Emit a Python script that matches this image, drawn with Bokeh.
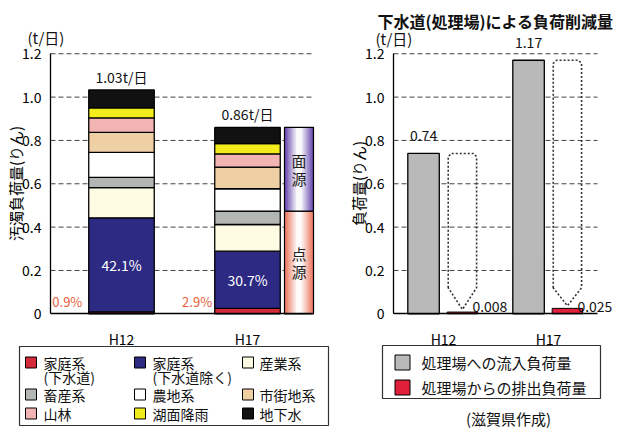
from bokeh.plotting import figure
from bokeh.models import ColumnDataSource, FixedTicker, Range1d
from bokeh.layouts import row
from bokeh.embed import file_html
from bokeh.resources import INLINE
from bokeh.core.properties import value

FONT = "Noto Sans CJK JP"

# ---------------- data ----------------
years = ["H12", "H17"]
sources = ["家庭系\n(下水道)", "家庭系\n(下水道除く)", "産業系", "畜産系", "農地系",
           "市街地系", "山林", "湖面降雨", "地下水"]
load_h12 = [0.009, 0.434, 0.139, 0.048, 0.115, 0.092, 0.067, 0.046, 0.083]
load_h17 = [0.025, 0.264, 0.123, 0.062, 0.103, 0.100, 0.061, 0.047, 0.075]
total_labels = ["1.03t/日", "0.86t/日"]
sewer_pct = ["0.9%", "2.9%"]
domestic_pct = ["42.1%", "30.7%"]
n_point = 4  # 家庭系(2), 産業系, 畜産系 = 点源
side_labels = ["点源", "面源"]

inflow = [0.74, 1.17]
outflow = [0.008, 0.025]
inflow_labels = ["0.74", "1.17"]
outflow_labels = ["0.008", "0.025"]
right_series = ["処理場への流入負荷量", "処理場からの排出負荷量"]
right_title = "下水道(処理場)による負荷削減量"
unit_label = "(t/日)"
credit = "(滋賀県作成)"

yticks = [0, 0.2, 0.4, 0.6, 0.8, 1.0, 1.2]
ytick_labels = ["0", "0.2", "0.4", "0.6", "0.8", "1.0", "1.2"]

# ---------------- styles ----------------
src_colors = ["#d42a3a", "#2d2a84", "#fdfbe2", "#b3b7b4", "#ffffff",
              "#efcfa4", "#f2b4b2", "#f3ec1c", "#111111"]
in_color = "#b9b9b9"
out_color = "#e0203a"
TXT = "#111111"

H = 432
PPU_Y = 216.7
Y0_PX = 313.3


def py2y(py):
    return (Y0_PX - py) / PPU_Y


def make_fig(width, x_lo, ppu_x, axis_px, right_px, ylabel):
    p = figure(width=width, height=H,
               x_range=Range1d(x_lo, x_lo + width / ppu_x),
               y_range=Range1d(py2y(H), py2y(0)),
               output_backend="svg", toolbar_location=None, min_border=0)
    p.outline_line_color = None
    p.background_fill_color = "white"
    p.border_fill_color = "white"
    p.grid.visible = False
    ax_x = x_lo + axis_px / ppu_x
    rt_x = x_lo + right_px / ppu_x
    # dashed horizontal grid lines
    p.segment(x0=ax_x, x1=rt_x, y0=yticks[1:], y1=yticks[1:],
              line_color="#444444", line_dash="5 3", line_width=1)
    p.yaxis.ticker = FixedTicker(ticks=yticks)
    p.yaxis.major_label_overrides = {t: s for t, s in zip(yticks, ytick_labels)}
    p.yaxis.fixed_location = ax_x
    p.yaxis.bounds = (0, 1.2)
    p.yaxis.axis_label = ylabel
    p.xaxis.ticker = FixedTicker(ticks=[1, 2])
    p.xaxis.major_label_overrides = {1: years[0], 2: years[1]}
    p.xaxis.fixed_location = 0
    p.xaxis.bounds = (ax_x, rt_x)
    for ax in (p.xaxis, p.yaxis):
        ax.axis_line_color = "black"
        ax.axis_line_width = 1.3
        ax.major_tick_line_color = None
        ax.minor_tick_line_color = None
        ax.major_label_text_font = FONT
        ax.major_label_text_font_size = "14px"
        ax.major_label_text_color = "black"
        ax.axis_label_text_font = FONT
        ax.axis_label_text_font_style = "normal"
        ax.axis_label_text_font_size = "15px"
        ax.axis_label_text_color = "black"
    p.yaxis.major_label_standoff = 3
    p.yaxis.axis_label_standoff = -7
    p.xaxis.major_label_standoff = 9
    return p


def blend(c, t):
    r, g, b = int(c[1:3], 16), int(c[3:5], 16), int(c[5:7], 16)
    return "#%02x%02x%02x" % (int(r + (255 - r) * t), int(g + (255 - g) * t),
                              int(b + (255 - b) * t))


def txt(p, xs, ys, texts, size="14px", align="left", color=TXT, style="normal",
        dy=0):
    p.text(x=xs, y=ys, text=texts, text_align=align, text_baseline="middle",
           text_font=value(FONT), text_font_size=size, text_color=color,
           text_font_style=style, y_offset=dy)


# ================= left chart =================
PPU_L = 126.0
XL0 = 1 - 121 / PPU_L


def lx(px):
    return XL0 + px / PPU_L


p1 = make_fig(340, XL0, PPU_L, 50, 312, "汚濁負荷量(りん)")

keys = ["s%d" % i for i in range(len(sources))]
stack_data = {"x": [1, 2]}
for k, a, b in zip(keys, load_h12, load_h17):
    stack_data[k] = [a, b]
p1.vbar_stack(keys, x="x", width=0.52, color=src_colors, line_color="black",
              line_width=1.3, source=ColumnDataSource(stack_data))

totals = [sum(load_h12), sum(load_h17)]
p1.text(x=[1, 2], y=totals, text=total_labels, text_align="center",
        text_baseline="bottom", y_offset=-3, text_font=value(FONT),
        text_font_size="14px", text_color=TXT)

dom_mid = [load_h12[0] + load_h12[1] / 2, load_h17[0] + load_h17[1] / 2]
txt(p1, [1, 2], dom_mid, domestic_pct, align="center", color="white")

p1.text(x=[1 - 0.43, 2 - 0.40], y=[0.0, 0.0], text=sewer_pct, text_align="center",
        text_baseline="bottom", y_offset=-3, text_font=value(FONT),
        text_font_size="13px", text_color="#e5603a")

# side bar (点源 / 面源) for H17
side_x = 2 + 51.5 / PPU_L
side_w = 29 / PPU_L
pt_top = sum(load_h17[:n_point])
tot17 = sum(load_h17)
bands = [(0.0, pt_top, "#ec7a60"), (pt_top, tot17, "#6a4cb0")]
steps = 8
for bot, top, col in bands:
    for i in range(steps):
        t = i / (steps - 1)
        w = side_w * (1 - 0.8 * t)
        p1.vbar(x=[side_x], width=w, bottom=[bot], top=[top],
                fill_color=blend(col, t * 0.97), line_color=None)
    p1.vbar(x=[side_x], width=side_w, bottom=[bot], top=[top],
            fill_color=None, line_color="black", line_width=1.2)
mids = [pt_top / 2, (pt_top + tot17) / 2]
side_src = ColumnDataSource(dict(
    x=[side_x] * 4,
    y=[mids[0], mids[0], mids[1], mids[1]],
    t=[side_labels[0][0], side_labels[0][1], side_labels[1][0], side_labels[1][1]],
    dy=[-9, 9, -9, 9]))
p1.text(x="x", y="y", text="t", y_offset="dy", source=side_src,
        text_align="center", text_baseline="middle", text_font=value(FONT),
        text_font_size="15px", text_color="#222222")

txt(p1, [lx(27)], [py2y(37)], [unit_label], size="15px")

# legend (left)
p1.quad(left=[lx(19)], right=[lx(328)], bottom=[py2y(425)], top=[py2y(346)],
        fill_color=None, line_color="#333333", line_width=1.2)
col_sw = [30.5, 139.5, 247.5]
col_tx = [43, 152, 259]
row_py = [362, 394, 413]
sw_x, sw_y, tx, ty, tt = [], [], [], [], []
for i, name in enumerate(sources):
    r, c = divmod(i, 3)
    sw_x.append(lx(col_sw[c]))
    sw_y.append(py2y(row_py[r]))
    for j, line in enumerate(name.split("\n")):
        tx.append(lx(col_tx[c]))
        ty.append(py2y(row_py[r] + 14 * j))
        tt.append(line)
p1.scatter(x=sw_x, y=sw_y, marker="square", size=11, fill_color=src_colors,
           line_color="black", line_width=1)
txt(p1, tx, ty, tt, size="14px")

# ================= right chart =================
PPU_R = 105.0
XR0 = 1 - 103 / PPU_R


def rx(px):
    return XR0 + (px - 340) / PPU_R


p2 = make_fig(277, XR0, PPU_R, 53, 257, "負荷量(りん)")

gx = [1 - 0.19, 2 - 0.19]
axc = [1 + 0.18, 2 + 0.18]
p2.vbar(x=gx, width=0.30, bottom=0, top=inflow, fill_color=in_color,
        line_color="black", line_width=1.3)

# dotted arrows from inflow level down to the outflow bar
hw, shoulder, crx, cry = 0.135, 0.12, 0.03, 0.015
xs, ys = [], []
for cx, top, bot in zip(axc, inflow, outflow):
    tip = bot + 0.012
    xs.append([cx - hw, cx - hw, cx - hw + crx, cx + hw - crx, cx + hw, cx + hw,
               cx, cx - hw])
    ys.append([shoulder, top - cry, top, top, top - cry, shoulder, tip, shoulder])
p2.patches(xs=xs, ys=ys, fill_color=None, line_color="#333333", line_dash="2 2",
           line_width=1.6)

p2.vbar(x=axc, width=0.29, bottom=0, top=outflow, fill_color=out_color,
        line_color="black", line_width=1.0)

p2.text(x=gx, y=inflow, text=inflow_labels, text_align="center",
        text_baseline="bottom", y_offset=-12, text_font=value(FONT),
        text_font_size="14px", text_color=TXT)
p2.text(x=[c + 10 / PPU_R for c in axc], y=[0, 0], text=outflow_labels,
        text_align="left", text_baseline="bottom", y_offset=-2,
        text_font=value(FONT), text_font_size="14px", text_color=TXT)

txt(p2, [rx(495)], [py2y(20)], [right_title], size="16px", align="center",
    style="bold")
txt(p2, [rx(375)], [py2y(38)], [unit_label], size="15px")

# legend (right)
p2.quad(left=[rx(382)], right=[rx(600)], bottom=[py2y(398)], top=[py2y(345)],
        fill_color=None, line_color="#333333", line_width=1.2)
p2.scatter(x=[rx(402), rx(402)], y=[py2y(362), py2y(387)], marker="square",
           size=15, fill_color=[in_color, out_color], line_color="black",
           line_width=1)
txt(p2, [rx(421), rx(421)], [py2y(362), py2y(387)], right_series, size="15px")
txt(p2, [rx(508)], [py2y(418)], [credit], size="15px", align="center")

layout = row(p1, p2)
open("out.html", "w").write(file_html(layout, INLINE))
